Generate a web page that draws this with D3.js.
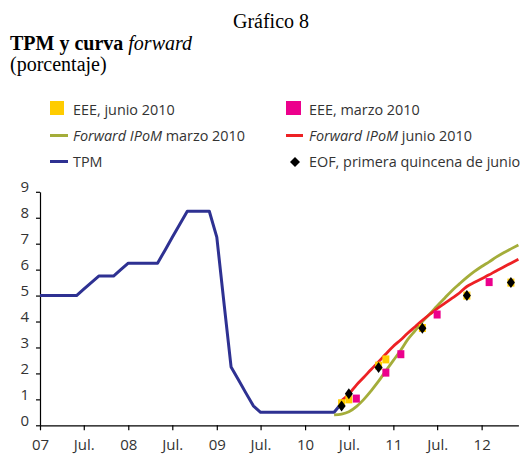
<!DOCTYPE html>
<html>
<head>
<meta charset="utf-8">
<script src="https://cdn.jsdelivr.net/npm/d3@7"></script>
<style>
  body { margin: 0; background: #fff; }
  .serif { font-family: "Liberation Serif", "DejaVu Serif", serif; }
  .sans { font-family: "Open Sans", "Noto Sans", sans-serif; }
</style>
</head>
<body>
<div id="chart"></div>
<script>
// monthly series (start month + one value per month)
const tpmStart = "2007-01";
const tpmValues = [5, 5, 5, 5, 5, 5, 5.25, 5.5, 5.75, 5.75, 5.75, 6,
                   6.25, 6.25, 6.25, 6.25, 6.25, 6.75, 7.25, 7.75, 8.25, 8.25, 8.25, 8.25,
                   7.25, 4.6, 2.25, 1.75, 1.25, 0.75, 0.5, 0.5, 0.5, 0.5, 0.5, 0.5,
                   0.5, 0.5, 0.5, 0.5, 0.5, 0.85];

const fwdMarzoStart = "2010-05";
const fwdMarzoValues = [0.4, 0.43, 0.52, 0.72, 1.0, 1.33, 1.7, 2.1, 2.5, 2.9, 3.3, 3.65,
                        4.0, 4.3, 4.6, 4.9, 5.2, 5.45, 5.7, 5.92, 6.12, 6.3, 6.48, 6.65,
                        6.8, 6.95];

const fwdJunioStart = "2010-06";
const fwdJunioValues = [0.95, 1.2, 1.55, 1.85, 2.15, 2.45, 2.75, 3.05, 3.3, 3.55, 3.8, 4.05,
                        4.28, 4.5, 4.7, 4.9, 5.1, 5.35, 5.5, 5.65, 5.8, 5.95, 6.1, 6.25,
                        6.4];

// survey points: [month, value]
const eeeJunio = [["2010-06", 0.85], ["2010-07", 1.0], ["2010-11", 2.3], ["2010-12", 2.54],
                  ["2011-05", 3.75], ["2011-11", 5.0], ["2012-05", 5.5]];
const eeeMarzo = [["2010-08", 1.03], ["2010-12", 2.03], ["2011-02", 2.74],
                  ["2011-07", 4.27], ["2012-02", 5.52]];
const eof = [["2010-06", 0.74], ["2010-07", 1.22], ["2010-11", 2.23], ["2011-05", 3.74],
             ["2011-11", 5.0], ["2012-05", 5.5]];

const yTicks = [0, 1, 2, 3, 4, 5, 6, 7, 8, 9];

const colors = {
  tpm: "#2e3192",
  marzo: "#a4ad3a",
  junio: "#ed2124",
  eeeJunio: "#ffcc00",
  eeeMarzo: "#ec008c",
  eof: "#000000"
};

const width = 524, height = 454;
const parseMonth = d3.timeParse("%Y-%m");

const svg = d3.select("#chart").append("svg")
  .attr("width", width)
  .attr("height", height);

// titles
svg.append("text").attr("class", "serif")
  .attr("x", 271).attr("y", 28)
  .attr("text-anchor", "middle")
  .style("font-size", "20px")
  .text("Gráfico 8");

const title = svg.append("text").attr("class", "serif")
  .attr("x", 10).attr("y", 50)
  .style("font-size", "20px");
title.append("tspan").style("font-weight", "bold").text("TPM y curva ");
title.append("tspan").style("font-style", "italic").text("forward");

svg.append("text").attr("class", "serif")
  .attr("x", 10).attr("y", 71)
  .style("font-size", "20px")
  .text("(porcentaje)");

// scales
const x = d3.scaleTime()
  .domain([parseMonth("2007-01"), parseMonth("2012-06")])
  .range([40, 518.4]);
const y = d3.scaleLinear().domain([0, 9]).range([425.3, 191.8]);

function series(start, values) {
  const s = parseMonth(start);
  return values.map((v, i) => ({ date: d3.timeMonth.offset(s, i), value: v }));
}

// axes
const xTicks = d3.timeMonth.range(parseMonth("2007-01"), parseMonth("2012-02"), 6);
const xAxis = svg.append("g")
  .attr("transform", `translate(0,${y(0)})`)
  .call(d3.axisBottom(x)
    .tickValues(xTicks)
    .tickSize(5)
    .tickSizeOuter(0)
    .tickPadding(9.5)
    .tickFormat(d => d.getMonth() === 0 ? d3.timeFormat("%y")(d) : "Jul."));

const yAxis = svg.append("g")
  .attr("transform", `translate(${x.range()[0]},0)`)
  .call(d3.axisLeft(y)
    .tickValues(yTicks)
    .tickSize(4)
    .tickSizeOuter(0)
    .tickPadding(7));
yAxis.selectAll("text").attr("dy", "0");

[xAxis, yAxis].forEach(g => {
  g.selectAll("text").attr("class", "sans").style("font-size", "15px").style("fill", "#333");
  g.selectAll("path, line").style("stroke", "#000").style("stroke-width", 1.2);
});

// lines
const line = d3.line()
  .x(d => x(d.date))
  .y(d => y(d.value))
  .curve(d3.curveMonotoneX);

const lineSharp = d3.line()
  .x(d => x(d.date))
  .y(d => y(d.value));

svg.append("path")
  .datum(series(tpmStart, tpmValues))
  .attr("d", lineSharp)
  .style("fill", "none")
  .style("stroke", colors.tpm)
  .style("stroke-width", 3)
  .style("stroke-linejoin", "round");

svg.append("path")
  .datum(series(fwdMarzoStart, fwdMarzoValues))
  .attr("d", line)
  .style("fill", "none")
  .style("stroke", colors.marzo)
  .style("stroke-width", 2.8);

svg.append("path")
  .datum(series(fwdJunioStart, fwdJunioValues))
  .attr("d", line)
  .style("fill", "none")
  .style("stroke", colors.junio)
  .style("stroke-width", 2.8);

// points
function squares(data, color) {
  svg.selectAll(null)
    .data(data)
    .enter()
    .append("rect")
    .attr("x", d => x(parseMonth(d[0])) - 3.5)
    .attr("y", d => y(d[1]) - 4)
    .attr("width", 7)
    .attr("height", 8)
    .style("fill", color);
}
squares(eeeJunio, colors.eeeJunio);
squares(eeeMarzo, colors.eeeMarzo);

const diamond = "M0,-5.5L4,0L0,5.5L-4,0Z";
svg.selectAll(".eof")
  .data(eof)
  .enter()
  .append("path")
  .attr("class", "eof")
  .attr("d", diamond)
  .attr("transform", d => `translate(${x(parseMonth(d[0]))},${y(d[1])})`)
  .style("fill", colors.eof);

// legend
const legend = svg.append("g").attr("class", "sans").style("font-size", "14.4px").style("fill", "#333");

legend.append("rect").attr("x", 50).attr("y", 101).attr("width", 14).attr("height", 14).style("fill", colors.eeeJunio);
legend.append("text").attr("x", 73).attr("y", 114.5).text("EEE, junio 2010");

legend.append("rect").attr("x", 286).attr("y", 101).attr("width", 15).attr("height", 14).style("fill", colors.eeeMarzo);
legend.append("text").attr("x", 309).attr("y", 114.5).text("EEE, marzo 2010");

legend.append("line").attr("x1", 50).attr("x2", 68).attr("y1", 135.5).attr("y2", 135.5)
  .style("stroke", colors.marzo).style("stroke-width", 3);
const l2 = legend.append("text").attr("x", 73).attr("y", 140.5);
l2.append("tspan").style("font-style", "italic").text("Forward IPoM");
l2.append("tspan").text(" marzo 2010");

legend.append("line").attr("x1", 286).attr("x2", 303).attr("y1", 135.5).attr("y2", 135.5)
  .style("stroke", colors.junio).style("stroke-width", 3);
const l4 = legend.append("text").attr("x", 309).attr("y", 140.5);
l4.append("tspan").style("font-style", "italic").text("Forward IPoM");
l4.append("tspan").text(" junio 2010");

legend.append("line").attr("x1", 50).attr("x2", 68).attr("y1", 161.5).attr("y2", 161.5)
  .style("stroke", colors.tpm).style("stroke-width", 3);
legend.append("text").attr("x", 73).attr("y", 166.5).text("TPM");

legend.append("path").attr("d", "M0,-5L5,0L0,5L-5,0Z")
  .attr("transform", "translate(295,162)")
  .style("fill", colors.eof);
legend.append("text").attr("x", 309).attr("y", 166.5).text("EOF, primera quincena de junio");
</script>
</body>
</html>
